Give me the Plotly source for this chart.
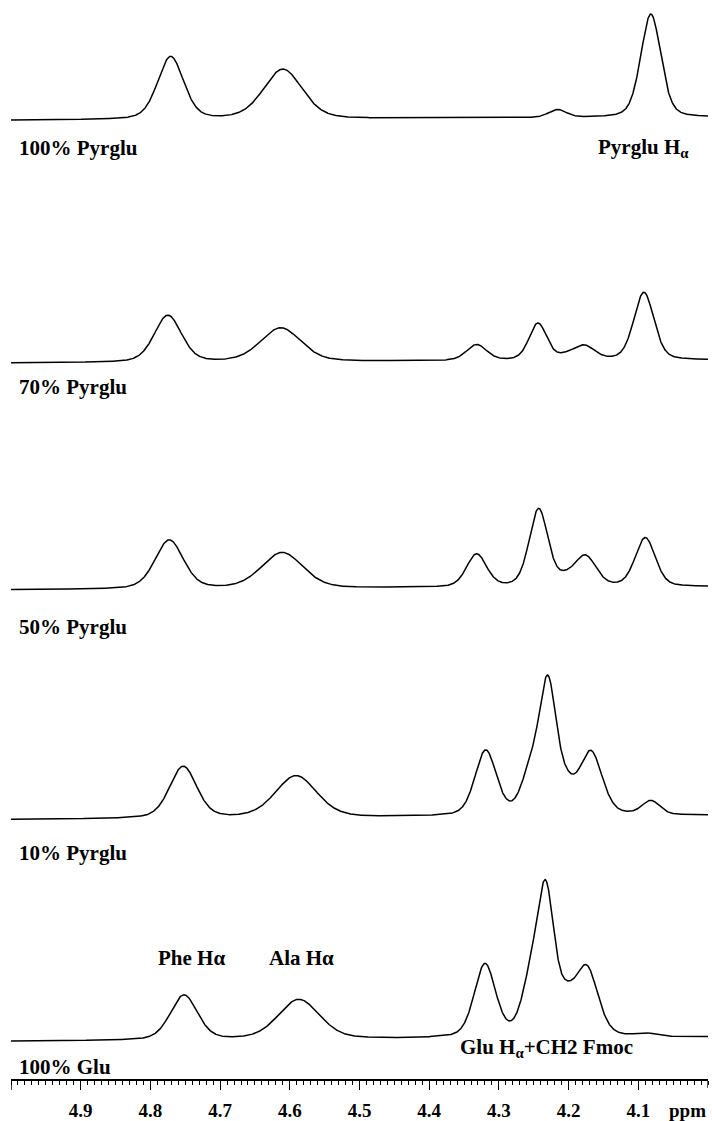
import numpy as np
import plotly.graph_objects as go

# ---------------- data ----------------
SPECTRUM_LABELS = ["100% Pyrglu", "70% Pyrglu", "50% Pyrglu", "10% Pyrglu", "100% Glu"]

# vertical offset (baseline intensity, arbitrary units) of each stacked spectrum
BASELINE_OFFSETS = [967, 723, 495, 265, 42]
# baseline drop at the 5.0 ppm end relative to the 4.0 ppm end
BASELINE_TILT = [3, 3, 3, 4, 4]

# peaks: chemical shift (ppm), height (a.u.), full width at half height (ppm)
PEAKS_100_PYRGLU_PPM = [4.771, 4.610, 4.216, 4.082]
PEAKS_100_PYRGLU_HEIGHT = [63, 50, 8, 104]
PEAKS_100_PYRGLU_WIDTH = [0.044, 0.066, 0.030, 0.034]

PEAKS_70_PYRGLU_PPM = [4.775, 4.613, 4.332, 4.244, 4.205, 4.178, 4.092]
PEAKS_70_PYRGLU_HEIGHT = [47, 34, 16, 37, 3, 14, 68]
PEAKS_70_PYRGLU_WIDTH = [0.046, 0.068, 0.034, 0.030, 0.030, 0.036, 0.034]

PEAKS_50_PYRGLU_PPM = [4.773, 4.611, 4.332, 4.243, 4.205, 4.176, 4.090]
PEAKS_50_PYRGLU_HEIGHT = [49, 36, 33, 78, 6, 30, 49]
PEAKS_50_PYRGLU_WIDTH = [0.048, 0.070, 0.034, 0.032, 0.030, 0.036, 0.034]

PEAKS_10_PYRGLU_PPM = [4.753, 4.591, 4.319, 4.256, 4.230, 4.203, 4.168, 4.082]
PEAKS_10_PYRGLU_HEIGHT = [52, 42, 65, 35, 131, 20, 62, 14]
PEAKS_10_PYRGLU_WIDTH = [0.046, 0.070, 0.036, 0.030, 0.030, 0.030, 0.038, 0.030]

PEAKS_100_GLU_PPM = [4.752, 4.587, 4.320, 4.256, 4.233, 4.203, 4.174, 4.090]
PEAKS_100_GLU_HEIGHT = [45, 40, 73, 42, 144, 26, 67, 3]
PEAKS_100_GLU_WIDTH = [0.046, 0.070, 0.036, 0.030, 0.030, 0.030, 0.038, 0.030]

LORENTZ_FRACTION = 0.3

TICK_VALUES = [4.9, 4.8, 4.7, 4.6, 4.5, 4.4, 4.3, 4.2, 4.1]
TICK_TEXT = ["4.9", "4.8", "4.7", "4.6", "4.5", "4.4", "4.3", "4.2", "4.1"]
AXIS_RANGE = [5.0, 4.0]

SPECTRA = [
    (PEAKS_100_PYRGLU_PPM, PEAKS_100_PYRGLU_HEIGHT, PEAKS_100_PYRGLU_WIDTH),
    (PEAKS_70_PYRGLU_PPM, PEAKS_70_PYRGLU_HEIGHT, PEAKS_70_PYRGLU_WIDTH),
    (PEAKS_50_PYRGLU_PPM, PEAKS_50_PYRGLU_HEIGHT, PEAKS_50_PYRGLU_WIDTH),
    (PEAKS_10_PYRGLU_PPM, PEAKS_10_PYRGLU_HEIGHT, PEAKS_10_PYRGLU_WIDTH),
    (PEAKS_100_GLU_PPM, PEAKS_100_GLU_HEIGHT, PEAKS_100_GLU_WIDTH),
]

# ---------------- build spectra ----------------
ppm = np.linspace(5.0, 3.99, 2500)


def line_shape(x, c, h, w, eta):
    d2 = 4.0 * (x - c) ** 2 / (w ** 2)
    gauss = np.exp(-np.log(2.0) * d2)
    lor = 1.0 / (1.0 + d2)
    return h * ((1 - eta) * gauss + eta * lor)


fig = go.Figure()
for (pos, hts, wds), off, tilt in zip(SPECTRA, BASELINE_OFFSETS, BASELINE_TILT):
    y = off - tilt * (ppm - 4.0) / 1.0
    for c, h, w in zip(pos, hts, wds):
        y = y + line_shape(ppm, c, h, w, LORENTZ_FRACTION)
    fig.add_trace(go.Scatter(x=ppm, y=y, mode="lines",
                             line=dict(color="black", width=1.5),
                             hoverinfo="skip", showlegend=False))

FONT = dict(family="Liberation Serif", size=21, color="black", weight="bold")
TICKFONT = dict(family="Liberation Serif", size=19, color="black", weight="bold")

annotations = []
label_pos = [(4.9914, 936), (4.9914, 696), (4.9914, 455), (4.9914, 227), (4.9914, 12)]
for text, (xx, yy) in zip(SPECTRUM_LABELS, label_pos):
    annotations.append(dict(x=xx, y=yy, text=text, showarrow=False,
                            xanchor="left", yanchor="middle", font=FONT))

annotations += [
    dict(x=4.0920, y=936, text="Pyrglu H<sub>α</sub>", showarrow=False,
         xanchor="center", yanchor="middle", font=FONT),
    dict(x=4.7410, y=122, text="Phe Hα", showarrow=False,
         xanchor="center", yanchor="middle", font=FONT),
    dict(x=4.5830, y=122, text="Ala Hα", showarrow=False,
         xanchor="center", yanchor="middle", font=FONT),
    dict(x=4.2320, y=31, text="Glu H<sub>α</sub>+CH2 Fmoc", showarrow=False,
         xanchor="center", yanchor="middle", font=FONT),
    dict(x=4.0290, xref="x", y=-0.0290, yref="paper", text="ppm", showarrow=False,
         xanchor="center", yanchor="middle", font=TICKFONT),
]

# end-of-axis ticks
shapes = [
    dict(type="line", xref="x", yref="paper", ysizemode="pixel", yanchor=0,
         x0=5.0, x1=5.0, y0=0, y1=-11, line=dict(color="black", width=1.5)),
    dict(type="line", xref="x", yref="paper", ysizemode="pixel", yanchor=0,
         x0=4.0, x1=4.0, y0=0, y1=-9, line=dict(color="black", width=1.3)),
]

fig.update_layout(
    width=712, height=1121,
    margin=dict(l=11, r=4, t=0, b=36),
    paper_bgcolor="white", plot_bgcolor="white",
    annotations=annotations, shapes=shapes,
    xaxis=dict(range=AXIS_RANGE, showgrid=False, zeroline=False,
               showline=True, linecolor="black", linewidth=1.5,
               ticks="outside", ticklen=9, tickwidth=1.3, tickcolor="black",
               tickmode="array", tickvals=TICK_VALUES, ticktext=TICK_TEXT,
               tickfont=TICKFONT, ticklabelstandoff=4,
               minor=dict(ticks="outside", ticklen=4, tickwidth=1, tickcolor="black",
                          tickmode="linear", dtick=0.01, tick0=4.0, showgrid=False)),
    yaxis=dict(range=[0, 1085], visible=False, showgrid=False, zeroline=False),
)

fig.write_html("out.html", config={"displayModeBar": False},
               post_script="document.body.style.margin='0';")
